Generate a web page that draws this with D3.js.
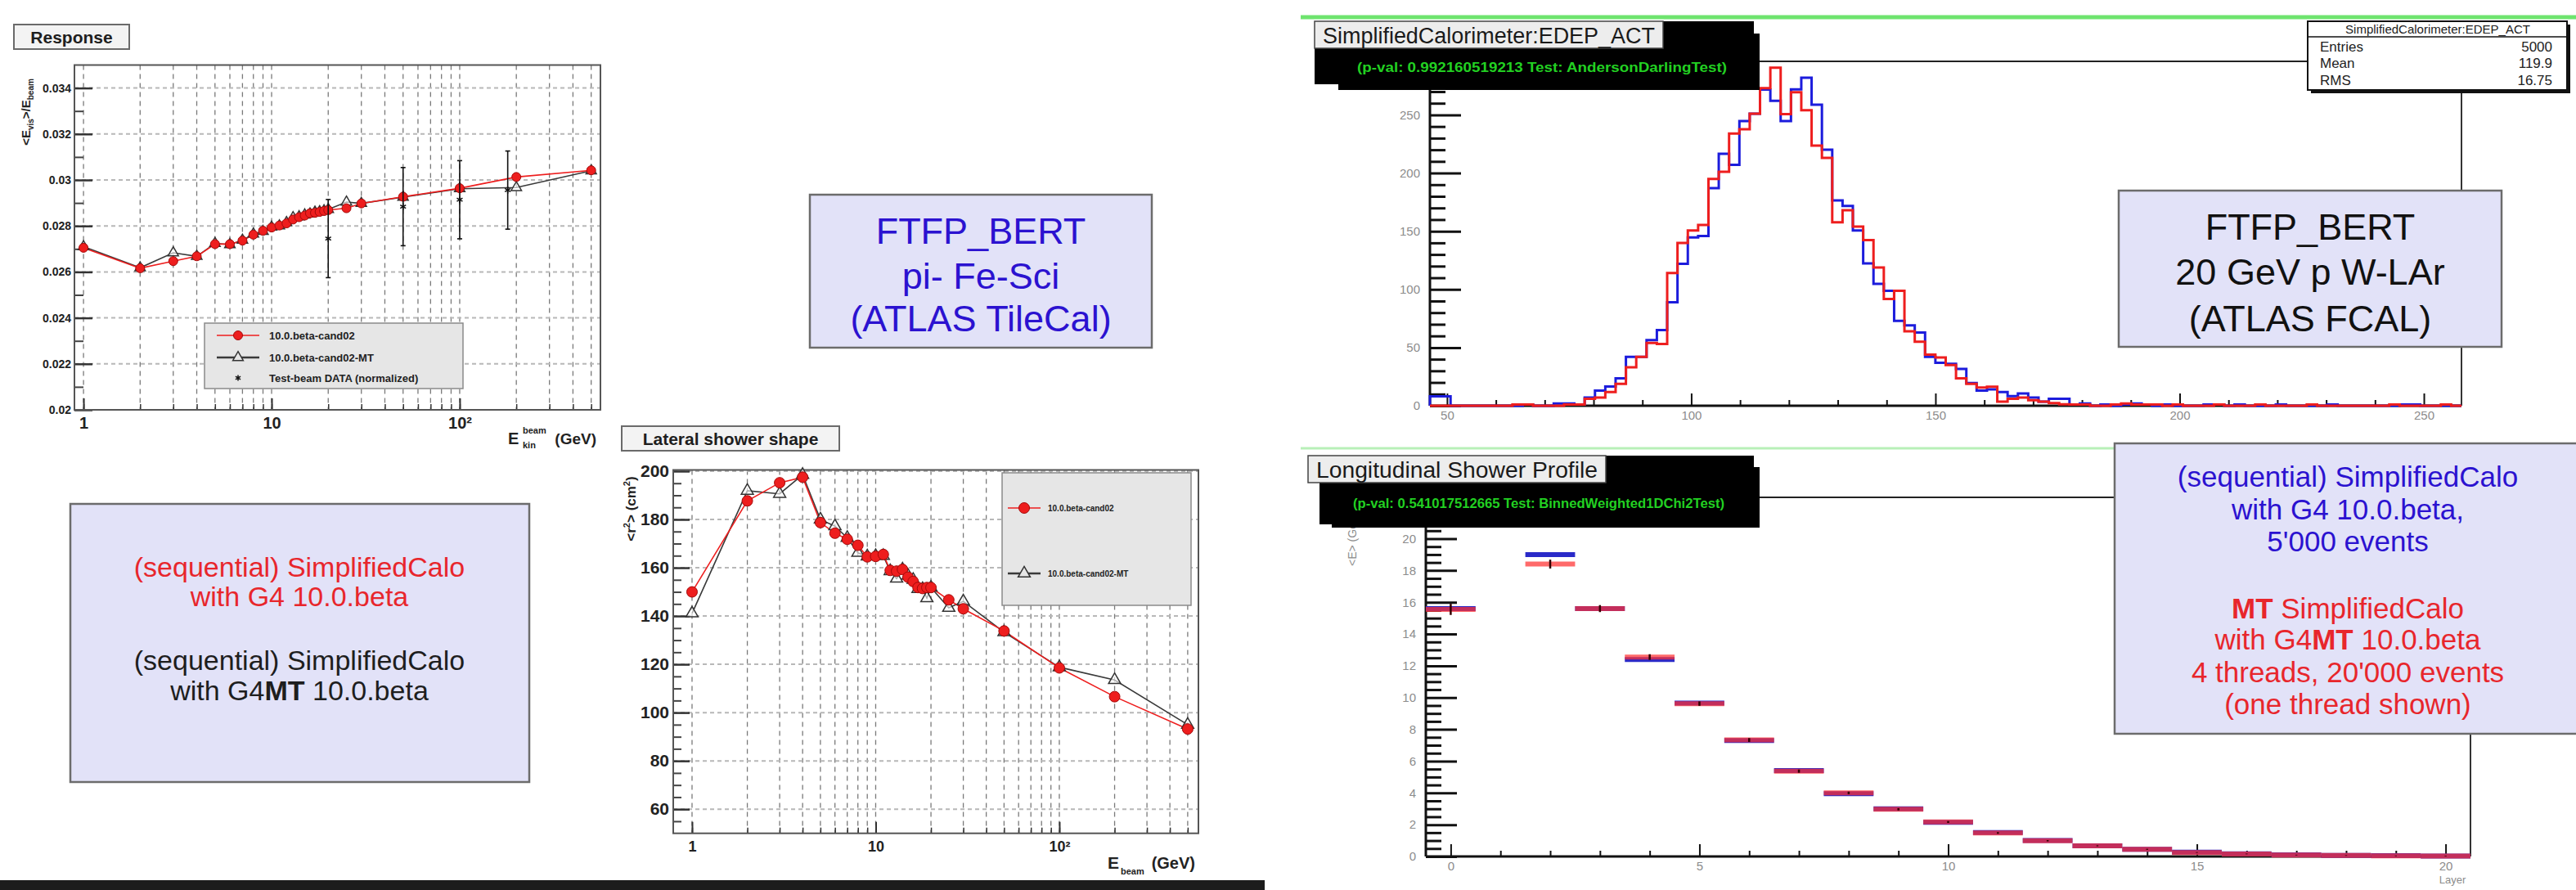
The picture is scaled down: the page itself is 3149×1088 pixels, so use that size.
<!DOCTYPE html>
<html>
<head>
<meta charset="utf-8">
<script src="https://cdn.jsdelivr.net/npm/d3@7"></script>
<style>
  body { margin: 0; background: #fff; }
  svg { display: block; }
</style>
</head>
<body>
<div id="d3"></div>
<script>
// ---------------- data ----------------
// Response, pi- Fe-Sci (ATLAS TileCal)
const respEnergy = [1,2,3,4,5,6,7,8,9,10,11,12,13,14,15,16,17,18,19,20,25,30,50,100,200,500];
const respSeq = [0.02705,0.02616,0.02647,0.02668,0.02721,0.02721,0.02736,0.02762,0.02779,0.02793,0.02802,0.02811,0.02828,
                 0.02838,0.02845,0.02855,0.02857,0.02861,0.02865,0.02869,0.02877,0.02898,0.02927,0.02964,0.03013,0.03042];
const respMT = [0.02710,0.02618,0.02683,0.02668,0.02724,0.02719,0.02738,0.02765,0.02776,0.02795,0.02800,0.02815,0.02836,
                0.02840,0.02848,0.02852,0.02860,0.02862,0.02866,0.02872,0.02904,0.02898,0.02925,0.02962,0.02967,0.03040];
const beamEnergy = [20, 50, 100, 180];
const beamResp = [0.02745, 0.02884, 0.02914, 0.02956];
const beamErr = [0.0017, 0.0017, 0.0017, 0.0017];
const respYTicks = [0.02,0.022,0.024,0.026,0.028,0.03,0.032,0.034];
const respYMinor = [0.021,0.023,0.025,0.027,0.029,0.031,0.033];
const respLegend = ["10.0.beta-cand02", "10.0.beta-cand02-MT", "Test-beam DATA (normalized)"];

// Lateral shower shape
const latEnergy = [1,2,3,4,5,6,7,8,9,10,11,12,13,14,15,16,17,18,19,20,25,30,50,100,200,500];
const latSeq = [150,187.7,195.2,197.5,178.7,174.3,171.8,169.3,164.5,164.7,165.5,158.9,158.6,
                159.3,156.1,154.3,151.8,151.4,151.8,151.8,146.7,143,133.8,118.5,106.6,93.2];
const latMT = [141.1,191.9,190.6,198.5,180,177.2,172.4,166.2,164.7,164.9,164.9,158.6,155.5,
               159.3,156.7,155,151.2,151.2,147.4,151.8,143.4,146.1,133.3,118.8,113.5,95];
const latYTicks = [60,80,100,120,140,160,180,200];
const latYMinor = [55,65,70,75,85,90,95,105,110,115,125,130,135,145,150,155,165,170,175,185,190,195];
const latLegend = ["10.0.beta-cand02", "10.0.beta-cand02-MT"];

const xDecadeTicks = [1, 10, 100];
const xDecadeLabels = ["1", "10", "10\u00B2"];

// EDEP_ACT histogram, 100 bins
const histLo = 46.5, histBinW = 2.112;
const edepSeq = [
  8,8,0,0,0,0,0,0,0,1,
  0,0,2,2,1,7,13,16.5,23.5,42,
  42,56.5,65,89,122,144.7,145.9,187,216.5,207,
  244.7,251,271.8,262,244.7,272,282,258.8,220,176.5,
  171.8,150.6,122.4,104.7,98.8,73,69,63,42,37,
  36,31.7,19.5,13,14,11.7,8.2,10.6,7,3.5,
  5.9,5.9,1,2,0,1,0,1,2,1,
  0,1,0,0,0,1,1,0,1,0,
  0,0,1,0,0,0,0,1,0,0,
  0,0,0,0,1,1,0,0,0,0];
const edepMT = [
  0,0,0,0,0,0,0,0,1,1,
  0,0,0,1,1,5.9,7,11.8,18.8,33,
  42,54,53,114,140,150.6,155.3,195,201,234,
  237.6,251,273,290.6,250.6,269.4,254,223.5,213,157.6,
  168,154,142.4,118.8,91.8,98.8,64,55,44,41.5,
  35,23.5,18.8,15.7,16.4,3.5,5.9,7,4.7,3.5,
  2.3,1.2,1,1,0,0,1,2,1,1,
  1,0,1,0,0,0,1,0,0,0,
  1,0,0,0,0,1,0,0,0,0,
  0,0,0,1,0,0,0,0,1,0];
const edepXTicks = [50, 100, 150, 200, 250];
const edepXMinor = [60,70,80,90,110,120,130,140,160,170,180,190,210,220,230,240];
const edepYTicks = [0, 50, 100, 150, 200, 250];
const edepYMinor = [10,20,30,40,60,70,80,90,110,120,130,140,160,170,180,190,210,220,230,240,260,270,280,290];
const edepStats = [["Entries", "5000"], ["Mean", "119.9"], ["RMS", "16.75"]];

// Longitudinal shower profile
const layers = [0,1,2,3,4,5,6,7,8,9,10,11,12,13,14,15,16,17,18,19,20];
const longSeq = [15.6,21.8,19.0,15.6,12.4,9.65,7.3,5.4,3.95,3.0,2.15,1.5,1.0,0.67,0.45,0.27,0.17,0.1,0.07,0.05,0.03];
const longMT  = [15.55,21.6,18.4,15.6,12.55,9.62,7.33,5.37,4.0,2.97,2.17,1.48,0.99,0.67,0.45,0.25,0.16,0.09,0.06,0.04,0.03];
const longErr = [0.35,0.3,0.28,0.22,0.18,0.14,0.12,0.1,0.08,0.07,0.06,0.05,0.04,0.03,0.03,0.02,0.02,0.02,0.02,0.02,0.02];
const longXTicks = [0, 5, 10, 15, 20];
const longYTicks = [0,2,4,6,8,10,12,14,16,18,20];

// text boxes
const tileCalNote = ["FTFP_BERT", "pi- Fe-Sci", "(ATLAS TileCal)"];
const fcalNote = ["FTFP_BERT", "20 GeV p W-LAr", "(ATLAS FCAL)"];
const leftNote = [
  [["(sequential) SimplifiedCalo", false]], [["with G4 10.0.beta", false]],
  [["(sequential) SimplifiedCalo", false]], [["with G4", false], ["MT", true], [" 10.0.beta", false]]];
const rightNote = [
  [["(sequential) SimplifiedCalo", false]], [["with G4 10.0.beta,", false]], [["5'000 events", false]],
  [["MT", true], [" SimplifiedCalo", false]], [["with G4", false], ["MT", true], [" 10.0.beta", false]],
  [["4 threads, 20'000 events", false]], [["(one thread shown)", false]]];

// ---------------- setup ----------------
const FONT = '"Liberation Sans", Arial, sans-serif';
const NARROW = '"Liberation Sans Narrow", "Liberation Sans", Arial, sans-serif';
const red = "#ee1e1e", blue = "#1c1cdc", noteBlue = "#2b12d0", noteRed = "#e8262c";

const canvas_width = 3149, canvas_height = 1088;
const svg = d3.select("#d3").append("svg")
  .attr("width", canvas_width).attr("height", canvas_height)
  .attr("font-family", FONT);
svg.append("rect").attr("width", canvas_width).attr("height", canvas_height).attr("fill", "#fff");

// ---------------- log-energy plots (ROOT style) ----------------
function energyPlot(o) {
  const g = svg.append("g");
  const x = d3.scaleLog().domain(o.xDomain).range([o.left, o.right]);
  const y = d3.scaleLinear().domain(o.yDomain).range([o.bottom, o.top]);
  const logTicks = x.ticks().filter(t => t >= 1);

  // title box
  g.append("rect").attr("x", o.title.x).attr("y", o.title.y).attr("width", o.title.w).attr("height", o.title.h)
    .attr("fill", "#f3f3f3").attr("stroke", "#6a6a6a").attr("stroke-width", 2);
  g.append("text").attr("x", o.title.x + o.title.w / 2).attr("y", o.title.y + o.title.h / 2).attr("dy", "0.36em")
    .attr("text-anchor", "middle").attr("font-size", o.title.fs).attr("font-weight", "bold").attr("fill", "#1e1e1e")
    .text(o.title.text);

  // dashed grid
  g.append("g").selectAll("line").data(logTicks).join("line")
    .attr("x1", d => x(d)).attr("x2", d => x(d)).attr("y1", o.top).attr("y2", o.bottom)
    .attr("stroke", "#7a7a7a").attr("stroke-width", 1.3).attr("stroke-dasharray", "6,5");
  g.append("g").selectAll("line").data(o.yTicks).join("line")
    .attr("x1", o.left).attr("x2", o.right).attr("y1", d => y(d)).attr("y2", d => y(d))
    .attr("stroke", "#b8b8b8").attr("stroke-width", 2).attr("stroke-dasharray", "5,4");

  // y axis, ticks pointing into the frame
  const ya = g.append("g").attr("transform", `translate(${o.left},0)`)
    .call(d3.axisLeft(y).tickValues(o.yTicks).tickSizeInner(-o.tick).tickSizeOuter(0)
      .tickPadding(o.padY).tickFormat(o.fmt));
  ya.attr("font-family", FONT).attr("font-size", o.fsY);
  ya.select(".domain").remove();
  ya.selectAll("line").attr("stroke", "#333").attr("stroke-width", 2.5);
  ya.selectAll("text").attr("font-weight", "bold").attr("fill", "#222");
  const ym = g.append("g").attr("transform", `translate(${o.left},0)`)
    .call(d3.axisLeft(y).tickValues(o.yMinor).tickSizeInner(-o.tick / 2).tickSizeOuter(0).tickFormat(""));
  ym.select(".domain").remove();
  ym.selectAll("line").attr("stroke", "#444").attr("stroke-width", 2);

  // x axis
  const xa = g.append("g").attr("transform", `translate(0,${o.bottom})`)
    .call(d3.axisBottom(x).tickValues(xDecadeTicks).tickSizeInner(-14).tickSizeOuter(0)
      .tickPadding(o.padX).tickFormat((d, i) => xDecadeLabels[i]));
  xa.attr("font-family", FONT).attr("font-size", o.fsX);
  xa.select(".domain").remove();
  xa.selectAll("line").attr("stroke", "#333").attr("stroke-width", 2);
  xa.selectAll("text").attr("font-weight", "bold").attr("fill", "#222");
  const xm = g.append("g").attr("transform", `translate(0,${o.bottom})`)
    .call(d3.axisBottom(x).tickValues(logTicks).tickSizeInner(-7).tickSizeOuter(0).tickFormat(""));
  xm.select(".domain").remove();
  xm.selectAll("line").attr("stroke", "#333").attr("stroke-width", 1.5);

  // frame
  g.append("rect").attr("x", o.left).attr("y", o.top).attr("width", o.right - o.left).attr("height", o.bottom - o.top)
    .attr("fill", "none").attr("stroke", "#555").attr("stroke-width", 2);

  const line = d3.line().x(d => x(d[0])).y(d => y(d[1]));
  const mt = o.energy.map((e, i) => [e, o.mt[i]]);
  const seq = o.energy.map((e, i) => [e, o.seq[i]]);
  const tri = d3.symbol().type(d3.symbolTriangle).size(o.triSize);

  g.append("path").datum(mt).attr("d", line).attr("fill", "none").attr("stroke", "#3a3a3a").attr("stroke-width", 1.6);
  g.append("path").datum(seq).attr("d", line).attr("fill", "none").attr("stroke", red).attr("stroke-width", 1.6);
  g.append("g").selectAll("path").data(mt).join("path")
    .attr("d", tri).attr("transform", d => `translate(${x(d[0])},${y(d[1])})`)
    .attr("fill", "#fff").attr("fill-opacity", 0.6).attr("stroke", "#333").attr("stroke-width", 1.5);
  g.append("g").selectAll("circle").data(seq).join("circle")
    .attr("cx", d => x(d[0])).attr("cy", d => y(d[1])).attr("r", o.r)
    .attr("fill", red).attr("stroke", "#a40a0a").attr("stroke-width", 1);

  // test-beam data with error bars
  if (o.beam) {
    const bd = o.beam.energy.map((e, i) => ({ e: e, v: o.beam.val[i], err: o.beam.err[i] }));
    const bg = g.append("g").selectAll("g").data(bd).join("g");
    bg.append("line").attr("x1", d => x(d.e)).attr("x2", d => x(d.e))
      .attr("y1", d => y(d.v - d.err)).attr("y2", d => y(d.v + d.err)).attr("stroke", "#111").attr("stroke-width", 1.6);
    bg.append("line").attr("x1", d => x(d.e) - 3).attr("x2", d => x(d.e) + 3)
      .attr("y1", d => y(d.v + d.err)).attr("y2", d => y(d.v + d.err)).attr("stroke", "#111").attr("stroke-width", 1.6);
    bg.append("line").attr("x1", d => x(d.e) - 3).attr("x2", d => x(d.e) + 3)
      .attr("y1", d => y(d.v - d.err)).attr("y2", d => y(d.v - d.err)).attr("stroke", "#111").attr("stroke-width", 1.6);
    bg.append("path").attr("d", d3.symbol().type(d3.symbolAsterisk || d3.symbolCross).size(45))
      .attr("transform", d => `translate(${x(d.e)},${y(d.v)})`)
      .attr("fill", "none").attr("stroke", "#111").attr("stroke-width", 1.6);
  }

  // legend
  const L = o.legend;
  const lg = g.append("g");
  lg.append("rect").attr("x", L.x).attr("y", L.y).attr("width", L.w).attr("height", L.h)
    .attr("fill", "#e6e6e6").attr("stroke", "#8a8a8a").attr("stroke-width", 1.5);
  L.labels.forEach((lab, i) => {
    const ly = L.rows[i];
    if (i < 2) {
      lg.append("line").attr("x1", L.mx - L.half).attr("x2", L.mx + L.half).attr("y1", ly).attr("y2", ly)
        .attr("stroke", i === 0 ? red : "#3a3a3a").attr("stroke-width", i === 0 ? 1.6 : 2.5);
    }
    if (i === 0) {
      lg.append("circle").attr("cx", L.mx).attr("cy", ly).attr("r", o.r).attr("fill", red).attr("stroke", "#a40a0a");
    } else if (i === 1) {
      lg.append("path").attr("d", tri).attr("transform", `translate(${L.mx},${ly})`)
        .attr("fill", "#e6e6e6").attr("stroke", "#333").attr("stroke-width", 1.5);
    } else {
      lg.append("path").attr("d", d3.symbol().type(d3.symbolAsterisk || d3.symbolCross).size(35))
        .attr("transform", `translate(${L.mx},${ly})`).attr("fill", "none").attr("stroke", "#111").attr("stroke-width", 1.5);
    }
    lg.append("text").attr("x", L.tx).attr("y", ly).attr("dy", "0.36em").attr("font-size", L.fs)
      .attr("font-weight", "bold").attr("fill", "#222").text(lab);
  });
  return { g: g, x: x, y: y };
}

// response plot
const resp = energyPlot({
  xDomain: [0.895, 560], yDomain: [0.02, 0.035],
  left: 91, right: 734, top: 79.5, bottom: 501,
  yTicks: respYTicks, yMinor: respYMinor, fmt: d => String(+d.toFixed(3)),
  tick: 22, padY: 4, padX: 9, fsY: 14, fsX: 20,
  energy: respEnergy, seq: respSeq, mt: respMT, r: 5.5, triSize: 70,
  beam: { energy: beamEnergy, val: beamResp, err: beamErr },
  title: { x: 17, y: 30, w: 141, h: 30, fs: 21, text: "Response" },
  legend: { x: 250, y: 395, w: 316, h: 80, rows: [410, 437, 462], mx: 291, half: 26, tx: 329, fs: 13, labels: respLegend }
});
// response axis titles
resp.g.append("text").attr("transform", "translate(37,137) rotate(-90)").attr("text-anchor", "middle")
  .attr("font-size", 15).attr("font-weight", "bold").attr("fill", "#222")
  .call(t => {
    t.append("tspan").text("<E");
    t.append("tspan").attr("font-size", 10).attr("dy", 4).text("vis");
    t.append("tspan").attr("dy", -4).text(">/E");
    t.append("tspan").attr("font-size", 10).attr("dy", 4).text("beam");
  });
resp.g.append("text").attr("x", 621).attr("y", 543).attr("font-size", 20).attr("font-weight", "bold").attr("fill", "#222").text("E");
resp.g.append("text").attr("x", 639).attr("y", 530).attr("font-size", 11).attr("font-weight", "bold").attr("fill", "#222").text("beam");
resp.g.append("text").attr("x", 639).attr("y", 548).attr("font-size", 11).attr("font-weight", "bold").attr("fill", "#222").text("kin");
resp.g.append("text").attr("x", 729).attr("y", 543).attr("text-anchor", "end").attr("font-size", 19)
  .attr("font-weight", "bold").attr("fill", "#222").text("(GeV)");

// lateral shower shape plot
const lat = energyPlot({
  xDomain: [0.79, 572], yDomain: [50, 200.5],
  left: 823, right: 1465, top: 574.5, bottom: 1018.7,
  yTicks: latYTicks, yMinor: latYMinor, fmt: d => String(d),
  tick: 20, padY: 5, padX: 10, fsY: 21, fsX: 18,
  energy: latEnergy, seq: latSeq, mt: latMT, r: 6.5, triSize: 95,
  title: { x: 760, y: 521, w: 266, h: 30, fs: 21, text: "Lateral shower shape" },
  legend: { x: 1225, y: 578, w: 231, h: 162, rows: [621, 701], mx: 1252, half: 20, tx: 1281, fs: 10, labels: latLegend }
});
lat.g.append("text").attr("transform", "translate(777,622) rotate(-90)").attr("text-anchor", "middle")
  .attr("font-size", 17).attr("font-weight", "bold").attr("fill", "#222")
  .call(t => {
    t.append("tspan").text("<r");
    t.append("tspan").attr("font-size", 11).attr("dy", -7).text("2");
    t.append("tspan").attr("dy", 7).text("> (cm");
    t.append("tspan").attr("font-size", 11).attr("dy", -7).text("2");
    t.append("tspan").attr("dy", 7).text(")");
  });
lat.g.append("text").attr("x", 1354).attr("y", 1062).attr("font-size", 21).attr("font-weight", "bold").attr("fill", "#222").text("E");
lat.g.append("text").attr("x", 1370).attr("y", 1069).attr("font-size", 11).attr("font-weight", "bold").attr("fill", "#222").text("beam");
lat.g.append("text").attr("x", 1461).attr("y", 1062).attr("text-anchor", "end").attr("font-size", 20)
  .attr("font-weight", "bold").attr("fill", "#222").text("(GeV)");

// ---------------- right half: ROOT comparison plots ----------------
function rootHeader(x, y, title, titleW, boxes, pval, pvalX, pvalY, pvalW) {
  const g = svg.append("g");
  boxes.forEach(b => g.append("rect").attr("x", b[0]).attr("y", b[1]).attr("width", b[2]).attr("height", b[3]).attr("fill", "#000"));
  g.append("rect").attr("x", x).attr("y", y).attr("width", titleW + 20).attr("height", 33)
    .attr("fill", "#ededed").attr("stroke", "#444").attr("stroke-width", 1.5);
  g.append("text").attr("x", x + 10).attr("y", y + 17).attr("dy", "0.36em").attr("font-family", NARROW)
    .attr("font-size", 27).attr("fill", "#1a1a1a").attr("textLength", titleW).attr("lengthAdjust", "spacingAndGlyphs").text(title);
  g.append("text").attr("x", pvalX).attr("y", pvalY).attr("dy", "0.36em").attr("font-family", NARROW)
    .attr("font-size", 17).attr("font-weight", "bold").attr("fill", "#22d022")
    .attr("textLength", pvalW).attr("lengthAdjust", "spacingAndGlyphs").text(pval);
}

function rootAxes(g, x, y, o) {
  const ya = g.append("g").attr("transform", `translate(${o.left},0)`)
    .call(d3.axisLeft(y).tickValues(o.yTicks).tickSizeInner(-38).tickSizeOuter(0).tickPadding(12));
  ya.attr("font-family", NARROW).attr("font-size", 15);
  ya.select(".domain").remove();
  ya.selectAll("line").attr("stroke", "#111").attr("stroke-width", 3);
  ya.selectAll("text").attr("fill", "#8c8c8c");
  const ym = g.append("g").attr("transform", `translate(${o.left},0)`)
    .call(d3.axisLeft(y).tickValues(o.yMinor).tickSizeInner(-19).tickSizeOuter(0).tickFormat(""));
  ym.select(".domain").remove();
  ym.selectAll("line").attr("stroke", "#111").attr("stroke-width", 3);

  const xa = g.append("g").attr("transform", `translate(0,${o.bottom})`)
    .call(d3.axisBottom(x).tickValues(o.xTicks).tickSizeInner(-15).tickSizeOuter(0).tickPadding(6));
  xa.attr("font-family", NARROW).attr("font-size", 15);
  xa.select(".domain").remove();
  xa.selectAll("line").attr("stroke", "#111").attr("stroke-width", 2);
  xa.selectAll("text").attr("fill", "#8c8c8c");
  const xm = g.append("g").attr("transform", `translate(0,${o.bottom})`)
    .call(d3.axisBottom(x).tickValues(o.xMinor).tickSizeInner(-7).tickSizeOuter(0).tickFormat(""));
  xm.select(".domain").remove();
  xm.selectAll("line").attr("stroke", "#111").attr("stroke-width", 2);

  // frame: thin top / right, thick axes
  g.append("line").attr("x1", o.left).attr("x2", o.right).attr("y1", o.top).attr("y2", o.top).attr("stroke", "#222").attr("stroke-width", 2);
  g.append("line").attr("x1", o.right).attr("x2", o.right).attr("y1", o.top).attr("y2", o.bottom).attr("stroke", "#333").attr("stroke-width", 2);
  g.append("line").attr("x1", o.left).attr("x2", o.left).attr("y1", o.top).attr("y2", o.bottom).attr("stroke", "#111").attr("stroke-width", 3);
  g.append("line").attr("x1", o.left).attr("x2", o.right).attr("y1", o.bottom).attr("y2", o.bottom).attr("stroke", "#111").attr("stroke-width", 3);
}

// green separators
svg.append("line").attr("x1", 1590).attr("x2", canvas_width).attr("y1", 21).attr("y2", 21).attr("stroke", "#6ee46e").attr("stroke-width", 5);
svg.append("line").attr("x1", 1590).attr("x2", 2590).attr("y1", 548).attr("y2", 548).attr("stroke", "#b8f0b8").attr("stroke-width", 3);

// EDEP_ACT histogram
const hx = d3.scaleLinear().domain([histLo, histLo + histBinW * edepSeq.length]).range([1748, 3009]);
const hy = d3.scaleLinear().domain([0, 296]).range([496, 75]);
const hg = svg.append("g");
rootAxes(hg, hx, hy, { left: 1748, right: 3009, top: 75, bottom: 496,
  xTicks: edepXTicks, xMinor: edepXMinor, yTicks: edepYTicks, yMinor: edepYMinor });

const edges = edepSeq.map((v, i) => histLo + i * histBinW).concat([histLo + edepSeq.length * histBinW]);
function stepPoints(vals) {
  const pts = [[edges[0], 0]];
  vals.forEach((v, i) => pts.push([edges[i], v]));
  pts.push([edges[vals.length], vals[vals.length - 1]]);
  pts.push([edges[vals.length], 0]);
  return pts;
}
const stepLine = d3.line().x(d => hx(d[0])).y(d => hy(d[1])).curve(d3.curveStepAfter);
hg.append("path").datum(stepPoints(edepSeq)).attr("d", stepLine).attr("fill", "none")
  .attr("stroke", blue).attr("stroke-width", 3);
hg.append("path").datum(stepPoints(edepMT)).attr("d", stepLine).attr("fill", "none")
  .attr("stroke", red).attr("stroke-width", 3);

rootHeader(1607, 26, "SimplifiedCalorimeter:EDEP_ACT", 406,
  [[1607, 26, 537, 77], [1636, 41, 515, 69]],
  "(p-val: 0.992160519213 Test: AndersonDarlingTest)", 1659, 82, 452);

// stats box
const sg = svg.append("g");
sg.append("rect").attr("x", 2825).attr("y", 30).attr("width", 317).attr("height", 84).attr("fill", "#111");
sg.append("rect").attr("x", 2821).attr("y", 26).attr("width", 317).attr("height", 84)
  .attr("fill", "#fff").attr("stroke", "#111").attr("stroke-width", 2);
sg.append("line").attr("x1", 2821).attr("x2", 3138).attr("y1", 45).attr("y2", 45).attr("stroke", "#111").attr("stroke-width", 1.5);
sg.append("text").attr("x", 2980).attr("y", 36).attr("dy", "0.36em").attr("text-anchor", "middle")
  .attr("font-family", NARROW).attr("font-size", 15).attr("fill", "#222").text("SimplifiedCalorimeter:EDEP_ACT");
edepStats.forEach((s, i) => {
  const yy = [57, 77, 98][i];
  sg.append("text").attr("x", 2836).attr("y", yy).attr("dy", "0.36em").attr("font-family", NARROW)
    .attr("font-size", 17).attr("fill", "#222").text(s[0]);
  sg.append("text").attr("x", 3120).attr("y", yy).attr("dy", "0.36em").attr("text-anchor", "end").attr("font-family", NARROW)
    .attr("font-size", 17).attr("fill", "#222").text(s[1]);
});

// longitudinal profile
const lx = d3.scaleLinear().domain([-0.5, 20.5]).range([1743, 3020]);
const ly = d3.scaleLinear().domain([0, 22.6]).range([1047, 608]);
const lgp = svg.append("g");
rootAxes(lgp, lx, ly, { left: 1743, right: 3020, top: 608, bottom: 1047,
  xTicks: longXTicks, xMinor: layers.filter(l => l % 5 !== 0),
  yTicks: longYTicks, yMinor: d3.range(0.5, 22.5, 0.5).filter(v => v % 2 !== 0) });

lgp.append("g").selectAll("line").data(layers).join("line")
  .attr("x1", d => lx(d - 0.5)).attr("x2", d => lx(d + 0.5))
  .attr("y1", (d, i) => ly(longSeq[i])).attr("y2", (d, i) => ly(longSeq[i]))
  .attr("stroke", "#2a2ac8").attr("stroke-width", 6);
lgp.append("g").selectAll("line").data(layers).join("line")
  .attr("x1", d => lx(d - 0.5)).attr("x2", d => lx(d + 0.5))
  .attr("y1", (d, i) => ly(longMT[i])).attr("y2", (d, i) => ly(longMT[i]))
  .attr("stroke", "#ff3030").attr("stroke-opacity", 0.72).attr("stroke-width", 6);
lgp.append("g").selectAll("line").data(layers).join("line")
  .attr("x1", d => lx(d)).attr("x2", d => lx(d))
  .attr("y1", (d, i) => ly(longMT[i] - longErr[i])).attr("y2", (d, i) => ly(longMT[i] + longErr[i]))
  .attr("stroke", "#300").attr("stroke-width", 2.5);
lgp.append("text").attr("x", 2998).attr("y", 1080).attr("text-anchor", "middle").attr("font-family", NARROW)
  .attr("font-size", 13).attr("fill", "#8c8c8c").text("Layer");
lgp.append("text").attr("transform", "translate(1658,692) rotate(-90)").attr("font-family", NARROW)
  .attr("font-size", 14).attr("fill", "#8c8c8c").text("<E> (GeV)");

rootHeader(1599, 557, "Longitudinal Shower Profile", 344,
  [[1613, 557, 531, 84], [1628, 571, 523, 74]],
  "(p-val: 0.541017512665 Test: BinnedWeighted1DChi2Test)", 1654, 615, 454);

// ---------------- note boxes ----------------
function noteBox(x, y, w, h, cx, rows) {
  const g = svg.append("g");
  g.append("rect").attr("x", x).attr("y", y).attr("width", w).attr("height", h)
    .attr("fill", "#e2e2f8").attr("stroke", "#6c6c6c").attr("stroke-width", 2.5);
  rows.forEach(r => {
    const t = g.append("text").attr("x", cx).attr("y", r.y).attr("dy", "0.36em").attr("text-anchor", "middle")
      .attr("font-size", r.fs).attr("fill", r.color);
    r.parts.forEach(p => t.append("tspan").attr("font-weight", p[1] ? "bold" : "normal").text(p[0]));
  });
}

noteBox(990, 238, 418, 187, 1199, tileCalNote.map((s, i) => ({ y: [282, 337, 389][i], fs: 45, color: noteBlue, parts: [[s, false]] })));
noteBox(2590, 233, 468, 191, 2824, fcalNote.map((s, i) => ({ y: [277, 332, 389][i], fs: 45, color: "#111", parts: [[s, false]] })));
noteBox(86, 616, 561, 340, 366, leftNote.map((p, i) => ({ y: [693, 729, 807, 844][i], fs: 34, color: i < 2 ? noteRed : "#1e1e1e", parts: p })));
noteBox(2585, 542, 600, 355, 2870, rightNote.map((p, i) => ({ y: [582, 622, 661, 743, 781, 821, 860][i], fs: 35, color: i < 3 ? noteBlue : noteRed, parts: p })));

// slide footer bar under the left half
svg.append("rect").attr("x", 0).attr("y", 1076).attr("width", 1546).attr("height", 12).attr("fill", "#1c1c1c");
</script>
</body>
</html>
